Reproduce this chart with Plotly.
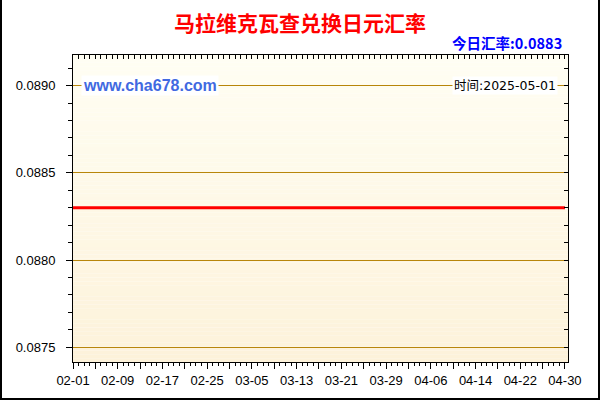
import pandas as pd
import plotly.graph_objects as go

# --- DATA ---
DATES = pd.date_range("2025-02-01", "2025-04-30", freq="D").strftime("%Y-%m-%d").tolist()
RATES = [
    0.0883, 0.0883, 0.0883, 0.0883, 0.0883, 0.0883, 0.0883, 0.0883, 0.0883, 0.0883,
    0.0883, 0.0883, 0.0883, 0.0883, 0.0883, 0.0883, 0.0883, 0.0883, 0.0883, 0.0883,
    0.0883, 0.0883, 0.0883, 0.0883, 0.0883, 0.0883, 0.0883, 0.0883, 0.0883, 0.0883,
    0.0883, 0.0883, 0.0883, 0.0883, 0.0883, 0.0883, 0.0883, 0.0883, 0.0883, 0.0883,
    0.0883, 0.0883, 0.0883, 0.0883, 0.0883, 0.0883, 0.0883, 0.0883, 0.0883, 0.0883,
    0.0883, 0.0883, 0.0883, 0.0883, 0.0883, 0.0883, 0.0883, 0.0883, 0.0883, 0.0883,
    0.0883, 0.0883, 0.0883, 0.0883, 0.0883, 0.0883, 0.0883, 0.0883, 0.0883, 0.0883,
    0.0883, 0.0883, 0.0883, 0.0883, 0.0883, 0.0883, 0.0883, 0.0883, 0.0883, 0.0883,
    0.0883, 0.0883, 0.0883, 0.0883, 0.0883, 0.0883, 0.0883, 0.0883, 0.0883,
]
TITLE = "马拉维克瓦查兑换日元汇率"
TODAY_RATE = "今日汇率:0.0883"
UPDATE_TIME = "时间:2025-05-01"
SITE = "www.cha678.com"

# --- STYLE ---
W, H = 600, 400
L, R, T, B = 73, 32, 55, 38
PW, PH = W - L - R, H - T - B
Y_RANGE = [0.087416, 0.089175]
X_RANGE = ["2025-02-01", "2025-04-30 13:00"]
GRID = "#B8860B"
TOP_BG = (255, 254, 243)
BOT_BG = (253, 242, 218)
TICK_FONT = dict(family="Liberation Sans, Arial", size=13, color="#000000")
CJK = "Noto Sans CJK SC, Microsoft YaHei, sans-serif"
DAY_MS = 86400000


def px_x(p):
    return (p - L) / PW


def px_y(p):
    return 1 - (p - T) / PH


# x ticks every 4 days, label every other one
tick_vals = DATES[::4]
tick_text = [d[5:] if i % 2 == 0 else "" for i, d in enumerate(tick_vals)]

fig = go.Figure()

fig.add_trace(go.Scatter(
    x=DATES, y=RATES, mode="lines",
    line=dict(color="#FF0000", width=3),
    hovertemplate="%{x}<br>%{y:.4f}<extra></extra>",
    showlegend=False,
))
# helper trace so the mirrored axes (top / right) are drawn
fig.add_trace(go.Scatter(
    x=DATES, y=RATES, mode="lines", xaxis="x2", yaxis="y2",
    line=dict(color="rgba(0,0,0,0)", width=0),
    hoverinfo="skip", showlegend=False,
))

# vertical gradient background of the plot area
shapes = []
bands = 80
for i in range(bands):
    t = i / (bands - 1)
    c = tuple(round(TOP_BG[k] + (BOT_BG[k] - TOP_BG[k]) * t) for k in range(3))
    shapes.append(dict(
        type="rect", xref="paper", yref="paper", layer="below",
        x0=0, x1=1, y0=1 - (i + 1) / bands, y1=1 - i / bands,
        fillcolor=f"rgb{c}", line=dict(width=0),
    ))
# outer black frame (left, right, bottom)
for x0, y0, x1, y1 in [(1, 0, 1, 399), (599, 0, 599, 399), (0, 399, 600, 399)]:
    shapes.append(dict(
        type="line", xref="paper", yref="paper",
        x0=px_x(x0), x1=px_x(x1), y0=px_y(y0), y1=px_y(y1),
        line=dict(color="#000000", width=2),
    ))

fig.update_layout(
    width=W, height=H,
    margin=dict(l=L, r=R, t=T, b=B),
    paper_bgcolor="#FFFFFF",
    plot_bgcolor="rgba(0,0,0,0)",
    showlegend=False,
    title=dict(
        text=f"<b>{TITLE}</b>", x=0.5, xref="container", xanchor="center",
        y=1 - 24 / H, yref="container", yanchor="middle",
        font=dict(family=CJK, size=21, color="#FF0000"),
    ),
    shapes=shapes,
    xaxis=dict(
        type="date", range=X_RANGE,
        tickvals=tick_vals, ticktext=tick_text,
        ticks="outside", ticklen=6, tickcolor="#000000",
        minor=dict(dtick=DAY_MS, tick0="2025-02-01", ticks="outside",
                   ticklen=3, tickcolor="#000000"),
        showline=True, linecolor="#000000", linewidth=1,
        showgrid=False, zeroline=False,
        tickfont=TICK_FONT, fixedrange=True,
    ),
    xaxis2=dict(
        type="date", range=X_RANGE, overlaying="x", side="top",
        dtick=DAY_MS, tick0="2025-02-01",
        ticks="inside", ticklen=4, tickcolor="#000000",
        showticklabels=False, showline=True, linecolor="#000000",
        showgrid=False, zeroline=False, fixedrange=True,
    ),
    yaxis=dict(
        range=Y_RANGE, dtick=0.0005, tick0=0.0875, tickformat=".4f",
        ticks="outside", ticklen=6, tickcolor="#000000",
        ticklabelstandoff=8,
        minor=dict(dtick=0.0001, tick0=0.0875, ticks="outside",
                   ticklen=4, tickcolor="#000000"),
        showline=True, linecolor="#000000", linewidth=1,
        showgrid=True, gridcolor=GRID, gridwidth=1, zeroline=False,
        tickfont=TICK_FONT, fixedrange=True,
    ),
    yaxis2=dict(
        range=Y_RANGE, overlaying="y", side="right",
        dtick=0.0001, tick0=0.0875,
        ticks="inside", ticklen=4, tickcolor="#000000",
        showticklabels=False, showline=True, linecolor="#000000",
        showgrid=False, zeroline=False, fixedrange=True,
    ),
)

# current rate, top right
fig.add_annotation(
    text=f"<b>{TODAY_RATE}</b>", xref="paper", yref="paper",
    x=px_x(564), y=px_y(42.5), xanchor="right", yanchor="middle",
    showarrow=False, font=dict(family=CJK, size=14.5, color="#0000FF"),
)
# site watermark
fig.add_annotation(
    text=f"<b>{SITE}</b>", xref="paper", yref="y",
    x=px_x(81), y=0.0890, xanchor="left", yanchor="middle",
    showarrow=False, bgcolor="#FFFFFF", borderpad=1,
    font=dict(family="Liberation Sans, Arial", size=16, color="#4169E1"),
)
# update time
fig.add_annotation(
    text=UPDATE_TIME, xref="paper", yref="y",
    x=px_x(558), y=0.0890, xanchor="right", yanchor="middle",
    showarrow=False, bgcolor="#FFFFFF", borderpad=1,
    font=dict(family="DejaVu Sans, Noto Sans CJK SC, sans-serif", size=12.5,
              color="#000000"),
)

# drop the default 8px page margin so the 600x400 figure sits at 0,0
fig.write_html("out.html", config={"displayModeBar": False},
               post_script="document.body.style.margin='0';")
